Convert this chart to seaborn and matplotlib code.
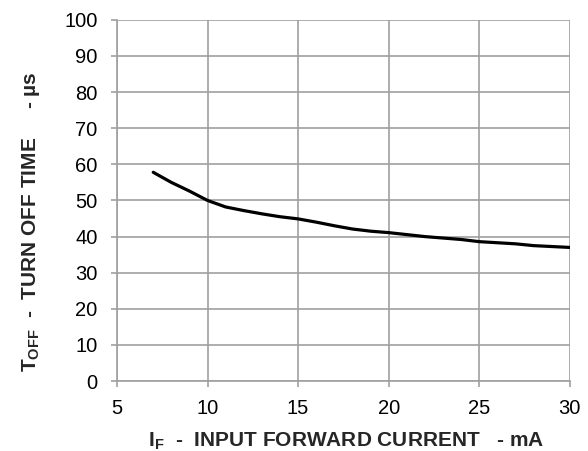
import matplotlib
matplotlib.use("Agg")
import matplotlib.pyplot as plt
import pandas as pd
import seaborn as sns

current = [7, 8, 9, 10, 11, 12, 13, 14, 15, 16, 17, 18, 19, 20, 22, 24, 25, 27, 28, 30]
toff = [57.8, 55.0, 52.6, 50.0, 48.2, 47.2, 46.3, 45.5, 44.9, 44.0, 43.0, 42.1, 41.5, 41.1, 40.0, 39.2, 38.6, 38.0, 37.5, 37.0]

xticks = [5, 10, 15, 20, 25, 30]
yticks = list(range(0, 101, 10))

sns.set_style("white")
plt.rcParams['font.family'] = ['Liberation Sans', 'DejaVu Sans']
plt.rcParams['mathtext.fontset'] = 'custom'
plt.rcParams['mathtext.rm'] = 'Liberation Sans'
plt.rcParams['mathtext.bf'] = 'Liberation Sans:bold'

df = pd.DataFrame({"IF": current, "TOFF": toff})

fig = plt.figure(figsize=(5.88, 4.51), dpi=100)
ax = fig.add_axes([0.199, 0.155, 0.770, 0.801])
sns.lineplot(data=df, x="IF", y="TOFF", color="black", linewidth=2.3, ax=ax)

grid_c = "#a0a0a0"
ax.set_xlim(5, 30)
ax.set_ylim(0, 100)
ax.set_xticks(xticks)
ax.set_yticks(yticks)
ax.grid(True, color=grid_c, linewidth=1.2)
ax.set_axisbelow(True)
for s in ["top", "right"]:
    ax.spines[s].set_visible(False)
for s in ["left", "bottom"]:
    ax.spines[s].set_color(grid_c)
    ax.spines[s].set_linewidth(1.2)
ax.tick_params(direction="out", length=4, width=1.2, color=grid_c,
               labelsize=14.5, labelcolor="black", left=True, bottom=True)
ax.tick_params(axis="y", pad=10)
ax.tick_params(axis="x", pad=9)

ax.set_xlabel(r"I$_{\mathbf{F}}$  -  INPUT FORWARD CURRENT   - mA",
              fontsize=15, fontweight="bold")
ax.set_ylabel(r"T$_{\mathbf{OFF}}$  -  TURN OFF TIME     - µs",
              fontsize=15, fontweight="bold")
ax.xaxis.set_label_coords(0.506, -0.136)
ax.yaxis.set_label_coords(-0.166, 0.44)

fig.savefig("out.png", dpi=100)
